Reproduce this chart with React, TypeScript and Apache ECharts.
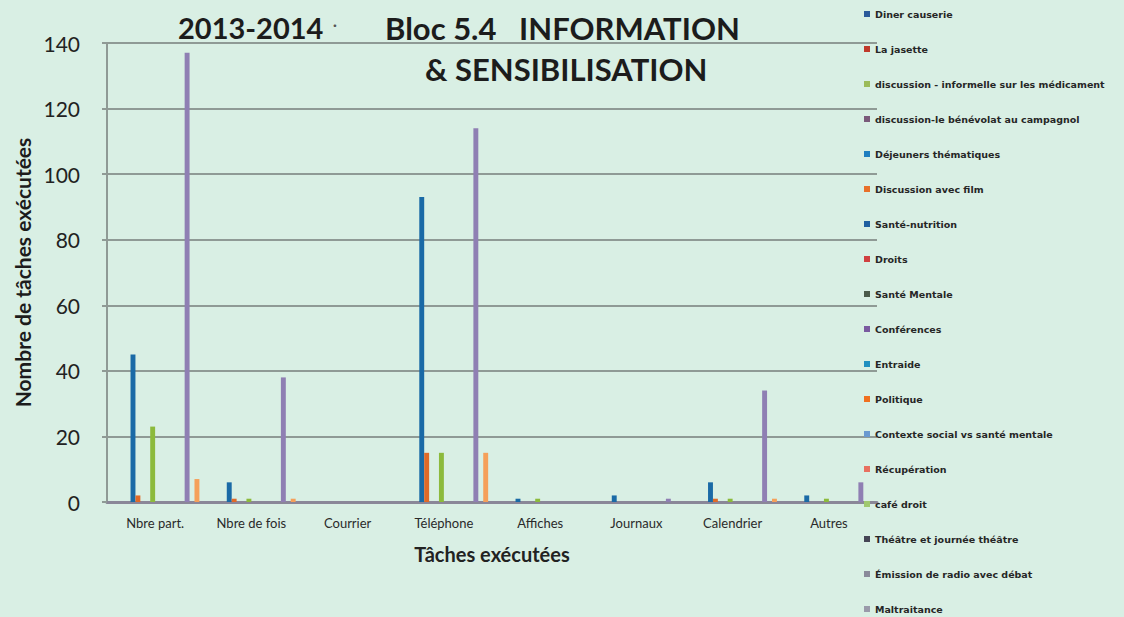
import React, { useEffect, useRef } from "react";
import * as echarts from "echarts";

const categories = ["Nbre part.", "Nbre de fois", "Courrier", "Téléphone", "Affiches", "Journaux", "Calendrier", "Autres"];

const seriesNames = [
  "Diner causerie",
  "La jasette",
  "discussion - informelle sur les médicament",
  "discussion-le bénévolat au campagnol",
  "Déjeuners thématiques",
  "Discussion avec film",
  "Santé-nutrition",
  "Droits",
  "Santé Mentale",
  "Conférences",
  "Entraide",
  "Politique",
  "Contexte social vs santé mentale",
  "Récupération",
  "café droit",
  "Théâtre et journée théâtre",
  "Émission de radio avec débat",
  "Maltraitance",
];

// colours used for the bars of each series
const barColors = [
  "#2a5a9a", "#c0392b", "#9bbb59", "#7a5a7a", "#1a6aa6", "#e06a28",
  "#1f5fa0", "#d04040", "#8cba3c", "#7a5aa0", "#2090c0", "#f07020",
  "#6a9ad0", "#e87060", "#a0c870", "#8f7fb3", "#8a8a9a", "#f5a05a",
];

// colours of the legend markers as seen in the legend
const legendColors = [
  "#2a5a9a", "#c0392b", "#9bbb59", "#7a5a7a", "#1f7fc0", "#e8702a",
  "#1f5fa0", "#d04040", "#4a5a4a", "#7a5aa0", "#2090c0", "#f07020",
  "#6a9ad0", "#e87060", "#a0c870", "#454555", "#8a8a9a", "#9a9aaa",
];

const zeros = [0, 0, 0, 0, 0, 0, 0, 0];
const dejeunersThematiques = [45, 6, 0, 93, 1, 2, 6, 2];
const discussionAvecFilm = [2, 1, 0, 15, 0, 0, 1, 0];
const santeMentale = [23, 1, 0, 15, 1, 0, 1, 1];
const theatre = [137, 38, 0, 114, 0, 1, 34, 6];
const maltraitance = [7, 1, 0, 15, 0, 0, 1, 0];

const seriesValues: number[][] = [
  zeros, zeros, zeros, zeros,
  dejeunersThematiques, discussionAvecFilm,
  zeros, zeros,
  santeMentale,
  zeros, zeros, zeros, zeros, zeros, zeros,
  theatre,
  zeros,
  maltraitance,
];

const yTicks = { min: 0, max: 140, interval: 20 };

export default function App() {
  const ref = useRef<HTMLDivElement>(null);
  useEffect(() => {
    if (!ref.current) return;
    const chart = echarts.init(ref.current, null, { renderer: "svg" });
    const titleStyle = { fontSize: 31, fontWeight: "bold", fontFamily: "Lato", color: "#1c1c1c" };
    chart.setOption({
      animation: false,
      backgroundColor: "#d9efe4",
      title: [
        { text: "2013-2014", left: 173, top: 8, textStyle: { ...titleStyle, fontSize: 29 } },
        { text: "·", left: 328, top: 12, textStyle: { ...titleStyle, fontSize: 14, color: "#555" } },
        { text: "Bloc 5.4   INFORMATION", left: 380, top: 7, textStyle: titleStyle },
        { text: "& SENSIBILISATION", left: 420, top: 48, textStyle: titleStyle },
      ],
      legend: {
        orient: "vertical",
        left: 864,
        top: 9,
        padding: 0,
        itemWidth: 6,
        itemHeight: 6,
        itemGap: 25,
        icon: "rect",
        textStyle: { fontSize: 9.5, fontFamily: "DejaVu Sans", fontWeight: "bold", color: "#262626", lineHeight: 10 },
        data: seriesNames.map((n, i) => ({ name: n, itemStyle: { color: legendColors[i] } })),
      },
      grid: { left: 107, right: 247, top: 43, bottom: 115, containLabel: false },
      xAxis: {
        type: "category",
        data: categories,
        name: "Tâches exécutées",
        nameLocation: "middle",
        nameGap: 42,
        nameTextStyle: { fontSize: 20, fontWeight: "bold", fontFamily: "Lato", color: "#222" },
        axisLine: { lineStyle: { color: "#8a8798", width: 3 } },
        axisTick: { show: false },
        axisLabel: { fontSize: 13, fontFamily: "Lato", color: "#2a2a2a", margin: 14 },
      },
      yAxis: {
        type: "value",
        min: yTicks.min,
        max: yTicks.max,
        interval: yTicks.interval,
        name: "Nombre de tâches exécutées",
        nameLocation: "middle",
        nameGap: 74,
        nameTextStyle: { fontSize: 21, fontWeight: "bold", fontFamily: "Lato", color: "#1c1c1c" },
        axisLine: { show: true, lineStyle: { color: "#8f9a95", width: 2 } },
        axisTick: { show: true, length: 5, lineStyle: { color: "#8f9a95", width: 2 } },
        axisLabel: { fontSize: 21, fontFamily: "Lato", color: "#222", margin: 27 },
        splitLine: { lineStyle: { color: "#8f9a95", width: 2 } },
      },
      series: seriesNames.map((n, i) => ({
        name: n,
        type: "bar",
        data: seriesValues[i],
        barGap: "0%",
        barCategoryGap: "8%",
        itemStyle: { color: barColors[i] },
      })),
    });
    return () => chart.dispose();
  }, []);
  return <div ref={ref} style={{ position: "fixed", left: 0, top: 0, width: 1124, height: 617 }} />;
}
